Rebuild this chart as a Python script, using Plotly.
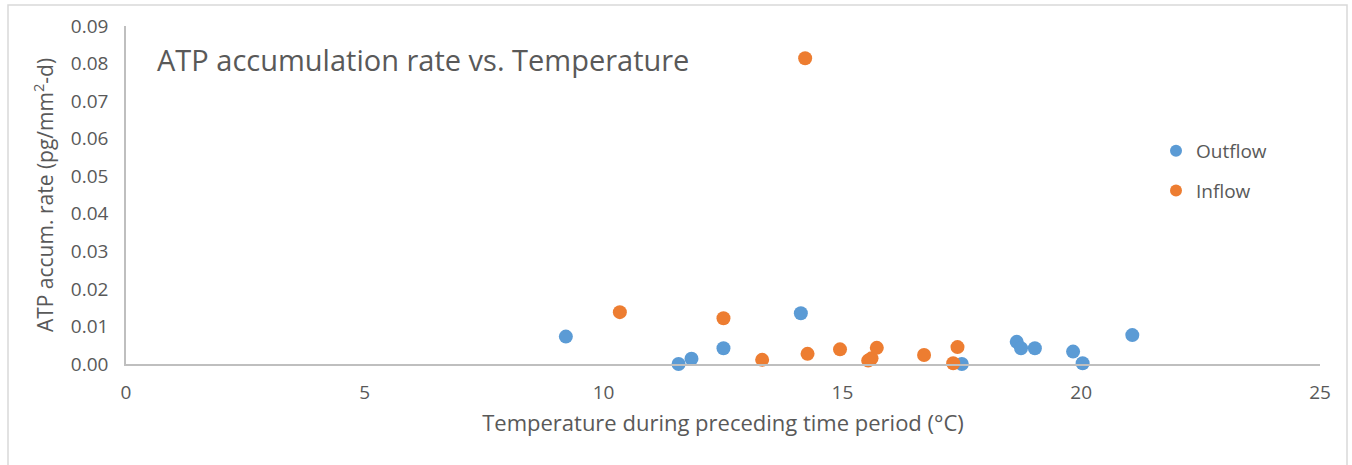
import plotly.graph_objects as go

# Data
outflow_temp = [9.21, 11.57, 11.84, 12.51, 14.13, 17.50, 18.65, 18.74, 19.03, 19.83, 20.03, 21.07]
outflow_rate = [0.0073, 0.0000, 0.0014, 0.0042, 0.0135, 0.0000, 0.0059, 0.0042, 0.0042, 0.0033, 0.0002, 0.0077]

inflow_temp = [10.34, 12.51, 13.32, 14.22, 14.27, 14.95, 15.54, 15.61, 15.72, 16.71, 17.32, 17.41]
inflow_rate = [0.0138, 0.0122, 0.0011, 0.0814, 0.0027, 0.0039, 0.0009, 0.0015, 0.0043, 0.0024, 0.0002, 0.0045]

x_ticks = [0, 5, 10, 15, 20, 25]
y_ticks = [0.00, 0.01, 0.02, 0.03, 0.04, 0.05, 0.06, 0.07, 0.08, 0.09]

BLUE = "#5B9BD5"
ORANGE = "#ED7D31"
TEXT = "#595959"
FONT = "Open Sans, Noto Sans, sans-serif"

fig = go.Figure()
fig.add_trace(go.Scatter(x=outflow_temp, y=outflow_rate, mode="markers", name="Outflow",
                         legendgroup="out",
                         marker=dict(color=BLUE, size=14, line=dict(width=0)), cliponaxis=False))
fig.add_trace(go.Scatter(x=inflow_temp, y=inflow_rate, mode="markers", name="Inflow",
                         legendgroup="in",
                         marker=dict(color=ORANGE, size=14, line=dict(width=0)), cliponaxis=False))

L, R, T, B = 126, 32, 26, 101
W, H = 1352, 465
pw, ph = W - L - R, H - T - B

def px_x(p):
    return (p - L) / pw

def px_y(p):
    return (H - B - p) / ph

fig.update_layout(
    width=W, height=H,
    margin=dict(l=L, r=R, t=T, b=B, autoexpand=False),
    paper_bgcolor="white", plot_bgcolor="white",
    font=dict(family=FONT, color=TEXT, size=18),
    showlegend=True,
    legend=dict(x=px_x(1156), y=px_y(132), xanchor="left", yanchor="top",
                font=dict(size=19, color=TEXT), itemsizing="constant",
                tracegroupgap=12, bgcolor="rgba(0,0,0,0)"),
    xaxis=dict(range=[0, 25], tickvals=x_ticks, showgrid=False, zeroline=False,
               showline=True, linecolor="#BFBFBF", linewidth=1.5, ticks="",
               tickfont=dict(size=19, color=TEXT), ticklabelstandoff=10,
               automargin=False,
               title=dict(text="Temperature during preceding time period (°C)",
                          font=dict(size=22, color=TEXT), standoff=12)),
    yaxis=dict(range=[0, 0.09], tickvals=y_ticks, tickformat=".2f", showgrid=False,
               zeroline=False, showline=True, linecolor="#BFBFBF", linewidth=1.5, ticks="",
               tickfont=dict(size=19, color=TEXT), ticklabelstandoff=12,
               automargin=False,
               title=dict(text="ATP accum. rate (pg/mm<sup>2</sup>-d)",
                          font=dict(size=21, color=TEXT), standoff=12)),
    annotations=[dict(text="ATP accumulation rate vs. Temperature", xref="paper", yref="paper",
                      x=px_x(155), y=px_y(60), xanchor="left", yanchor="middle",
                      showarrow=False, font=dict(size=29, color=TEXT))],
    shapes=[dict(type="rect", xref="paper", yref="paper", layer="below",
                 x0=px_x(8), x1=px_x(1347), y0=px_y(475), y1=px_y(5),
                 line=dict(color="#D9D9D9", width=1.5), fillcolor="rgba(0,0,0,0)")],
)

fig.write_html("out.html")
